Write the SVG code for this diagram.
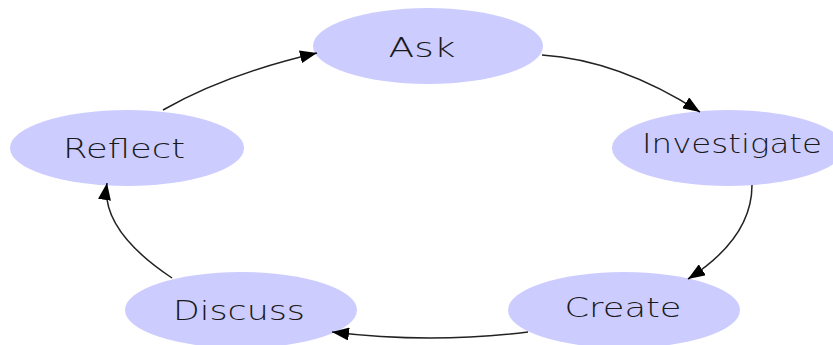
<svg xmlns="http://www.w3.org/2000/svg" width="833" height="345" viewBox="0 0 833 345">
<style>
.node ellipse{fill:#ccccff;stroke:none}
.node text{font-family:"DejaVu Sans","Liberation Sans",sans-serif;font-size:26px;font-weight:200;fill:#1a1a1a;text-anchor:middle}
.edges path{fill:none;stroke:#222;stroke-width:1.5}
</style>
<defs>
<marker id="arr" markerUnits="userSpaceOnUse" markerWidth="18" markerHeight="13" refX="17" refY="6.5" orient="auto" viewBox="0 0 18 13">
<path d="M0,0 L17,6.5 L0,13 z" fill="#000"/>
</marker>
</defs>
<rect width="833" height="345" fill="#fff"/>
<g id="n-ask" class="node"><ellipse cx="428" cy="46" rx="115" ry="38"/><text x="422" y="57" textLength="67" lengthAdjust="spacingAndGlyphs">Ask</text></g>
<g id="n-investigate" class="node"><ellipse cx="728" cy="148" rx="116" ry="38"/><text x="732" y="153" textLength="180" lengthAdjust="spacingAndGlyphs">Investigate</text></g>
<g id="n-create" class="node"><ellipse cx="624" cy="310" rx="116" ry="38"/><text x="623" y="317" textLength="117" lengthAdjust="spacingAndGlyphs">Create</text></g>
<g id="n-discuss" class="node"><ellipse cx="241" cy="310" rx="116" ry="38"/><text x="239" y="320" textLength="132" lengthAdjust="spacingAndGlyphs">Discuss</text></g>
<g id="n-reflect" class="node"><ellipse cx="127" cy="148" rx="117" ry="38"/><text x="124" y="158" textLength="122" lengthAdjust="spacingAndGlyphs">Reflect</text></g>
<g id="edges" class="edges">
<path d="M542,55 Q619,60 700,112" marker-end="url(#arr)"/>
<path d="M752,185 Q752,238 688,279" marker-end="url(#arr)"/>
<path d="M528,332 Q430,344 332,332" marker-end="url(#arr)"/>
<path d="M172,278 Q100,230 107,183" marker-end="url(#arr)"/>
<path d="M163,110 Q226,74 317,53" marker-end="url(#arr)"/>
</g>
</svg>
